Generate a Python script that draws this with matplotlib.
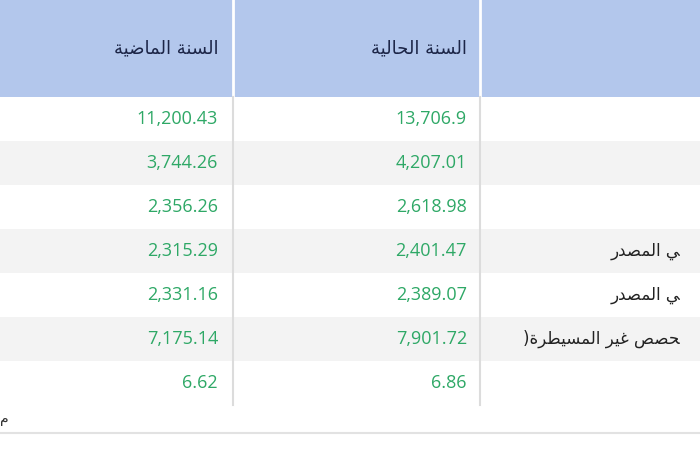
import matplotlib
matplotlib.use("Agg")
import matplotlib.pyplot as plt
from matplotlib.patches import Rectangle

headers = ["السنة الحالية", "السنة الماضية"]
row_labels = ["", "", "", "ـي المصدر", "ـي المصدر", "ـحصص غير المسيطرة)", ""]
current_year = ["13,706.9", "4,207.01", "2,618.98", "2,401.47", "2,389.07", "7,901.72", "6.86"]
last_year = ["11,200.43", "3,744.26", "2,356.26", "2,315.29", "2,331.16", "7,175.14", "6.62"]

# minimal Arabic shaping (isolated, final, initial, medial)
FORMS = {
    'ا': (0xFE8D, 0xFE8E, None, None), 'د': (0xFEA9, 0xFEAA, None, None),
    'ر': (0xFEAD, 0xFEAE, None, None), 'ة': (0xFE93, 0xFE94, None, None),
    'و': (0xFEED, 0xFEEE, None, None),
    'ل': (0xFEDD, 0xFEDE, 0xFEDF, 0xFEE0), 'س': (0xFEB1, 0xFEB2, 0xFEB3, 0xFEB4),
    'ن': (0xFEE5, 0xFEE6, 0xFEE7, 0xFEE8), 'م': (0xFEE1, 0xFEE2, 0xFEE3, 0xFEE4),
    'ض': (0xFEBD, 0xFEBE, 0xFEBF, 0xFEC0), 'ي': (0xFEF1, 0xFEF2, 0xFEF3, 0xFEF4),
    'ح': (0xFEA1, 0xFEA2, 0xFEA3, 0xFEA4), 'ص': (0xFEB9, 0xFEBA, 0xFEBB, 0xFEBC),
    'غ': (0xFECD, 0xFECE, 0xFECF, 0xFED0), 'ط': (0xFEC1, 0xFEC2, 0xFEC3, 0xFEC4),
    'ه': (0xFEE9, 0xFEEA, 0xFEEB, 0xFEEC), 'ب': (0xFE8F, 0xFE90, 0xFE91, 0xFE92),
}
TATWEEL = 'ـ'

def dual(c):
    return (c in FORMS and FORMS[c][2] is not None) or c == TATWEEL

def shape(s):
    out = []
    for i, c in enumerate(s):
        if c == TATWEEL:
            continue
        if c not in FORMS:
            out.append(c); continue
        p = s[i-1] if i > 0 else ''
        n = s[i+1] if i + 1 < len(s) else ''
        jp = dual(p)
        jn = dual(c) and n in FORMS
        f = FORMS[c]
        if jp and jn: out.append(chr(f[3]))
        elif jp: out.append(chr(f[1]))
        elif jn: out.append(chr(f[2]))
        else: out.append(chr(f[0]))
    return ''.join(reversed(out))

W, H = 700, 450
fig = plt.figure(figsize=(7, 4.5), dpi=100)
ax = fig.add_axes([0, 0, 1, 1])
ax.set_xlim(0, W); ax.set_ylim(H, 0); ax.axis('off')

head_h = 97
row_h = 44
col_edges = [0, 233, 480, W]
ax.add_patch(Rectangle((0, 0), W, head_h, color='#b3c7ec', lw=0))
for i in range(len(current_year)):
    y0 = head_h + i * row_h
    if i % 2 == 1:
        ax.add_patch(Rectangle((0, y0), W, row_h, color='#f3f3f3', lw=0))
table_bottom = head_h + len(current_year) * row_h
for x in col_edges[1:3]:
    ax.plot([x, x], [0, head_h], color='white', lw=2)
    ax.plot([x, x], [head_h, table_bottom], color='#dcdcdc', lw=1.5)

arfont = 'DejaVu Sans'
ax.text(467, head_h / 2, shape(headers[0]), ha='right', va='center', fontsize=13,
        color='#1c2547', family=arfont)
ax.text(218, head_h / 2, shape(headers[1]), ha='right', va='center', fontsize=13,
        color='#1c2547', family=arfont)

green = '#2ea866'
for i in range(len(current_year)):
    yc = head_h + i * row_h + row_h / 2
    ax.text(467, yc, current_year[i], ha='right', va='center', fontsize=13,
            color=green, family='Open Sans')
    ax.text(218, yc, last_year[i], ha='right', va='center', fontsize=13,
            color=green, family='Open Sans')
    if row_labels[i]:
        ax.text(680, yc, shape(row_labels[i]), ha='right', va='center',
                fontsize=12, color='#222222', family=arfont)

ax.plot([0, W], [433, 433], color='#e2e2e2', lw=1.5)
ax.text(0, 419, shape('م'), ha='left', va='center', fontsize=10, color='#333333', family=arfont)

fig.savefig('out.png', dpi=100)
